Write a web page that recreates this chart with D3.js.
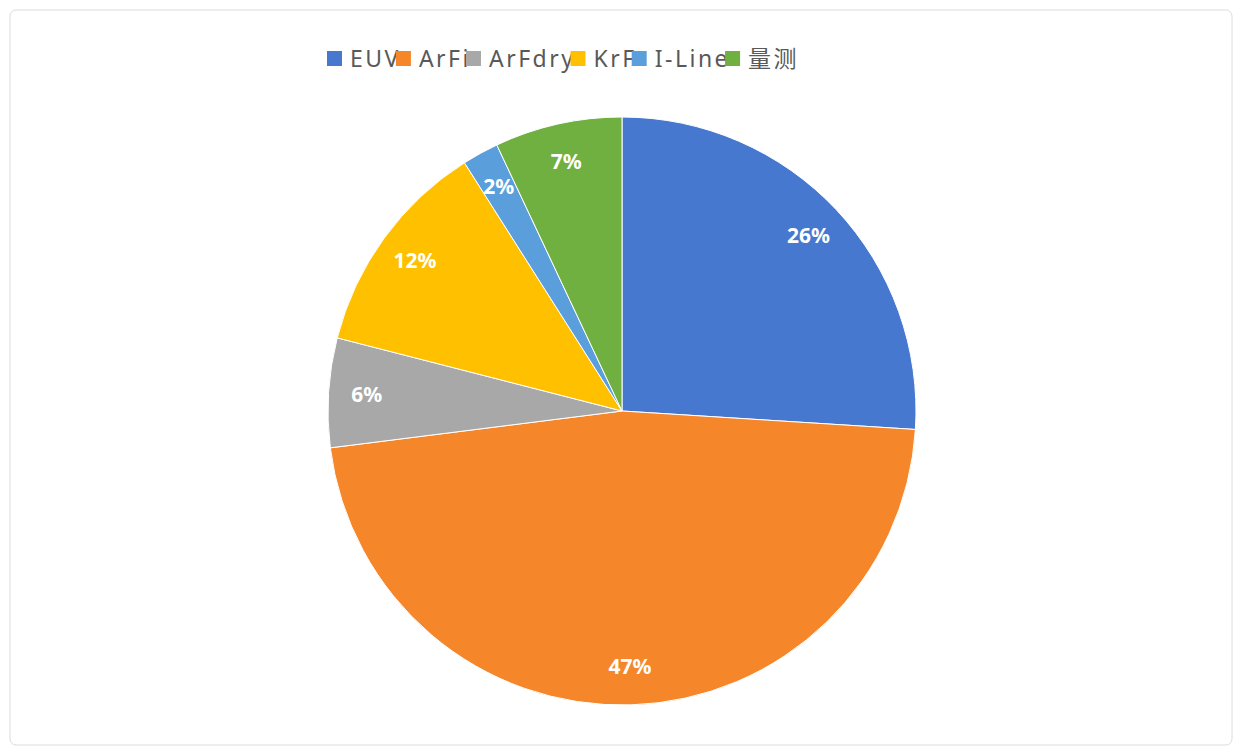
<!DOCTYPE html>
<html><head><meta charset="utf-8">
<script src="https://cdn.jsdelivr.net/npm/d3@7/dist/d3.min.js"></script>
<style>body{margin:0;background:#fff}</style></head>
<body><svg id="c" width="1242" height="756"></svg>
<script>
const categories=["EUV","ArFi","ArFdry","KrF","I-Line","量测"];
const values=[26,47,6,12,2,7];
const colors=["#4778d0","#f5862a","#a8a8a8","#ffc000","#5a9fdc","#6fb040"];
const svg=d3.select("#c");
svg.append("rect").attr("x",10).attr("y",10).attr("width",1222).attr("height",735).attr("rx",6).attr("fill","#fff").attr("stroke","#dcdcdc");
const cx=622,cy=411,r=294;
const pie=d3.pie().sort(null).value(d=>d)(values);
const arc=d3.arc().innerRadius(0).outerRadius(r);
const lab=d3.arc().innerRadius(r*0.87).outerRadius(r*0.87);
const g=svg.append("g").attr("transform",`translate(${cx},${cy})`);
g.selectAll("path").data(pie).join("path").attr("d",arc).attr("fill",(d,i)=>colors[i]).attr("stroke","#fff").attr("stroke-width",1);
g.selectAll("text").data(pie).join("text").attr("transform",d=>`translate(${lab.centroid(d)})`)
 .attr("text-anchor","middle").attr("dy","0.35em").attr("fill","#fff").attr("font-weight","bold")
 .attr("font-family","Noto Sans, sans-serif").attr("font-size",21).text(d=>d.data+"%");
// legend
const lg=svg.append("g").attr("font-family","Noto Sans, Noto Sans CJK SC, sans-serif").attr("font-size",23).attr("fill","#595959").attr("letter-spacing","2.5px");
let x=327;
categories.forEach((c,i)=>{
  lg.append("rect").attr("x",x).attr("y",51).attr("width",15).attr("height",15).attr("fill",colors[i]);
  const t=lg.append("text").attr("x",x+23).attr("y",67).text(c);
  x+=23+t.getBBox?0:0;
  x+=t.node().getBBox().width+18;
});
</script></body></html>
